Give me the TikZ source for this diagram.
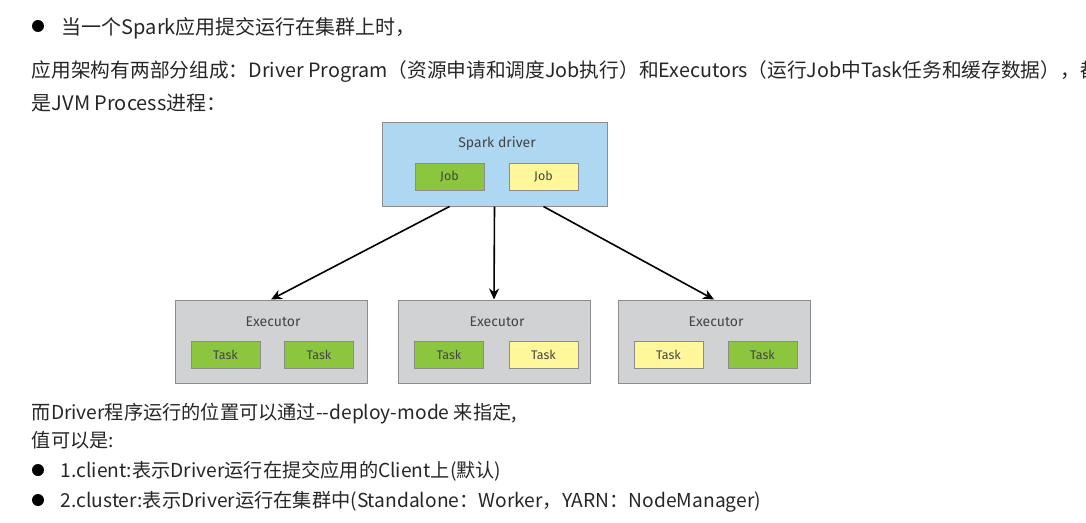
\documentclass[tikz,border=0pt]{standalone}
\usepackage{fontspec}
\setmainfont{Noto Sans CJK SC}
\newfontfamily\boxfont{Fira Sans}
\usetikzlibrary{arrows.meta}
\definecolor{driverblue}{HTML}{AED8F2}
\definecolor{jobgreen}{HTML}{8CC63F}
\definecolor{jobyellow}{HTML}{FFF79A}
\definecolor{execgray}{HTML}{D1D2D4}
\definecolor{boxline}{HTML}{8C8C8C}
\definecolor{boxtext}{HTML}{444444}

\begin{document}
\begin{tikzpicture}[x=1pt,y=-1pt,>={Stealth[length=11pt,width=10pt]},
                    line width=1.6pt]
  \tikzstyle{every node}=[font=\fontsize{20}{24}\selectfont,text=black!85]
  \tikzstyle{line}=[anchor=base west,inner sep=0pt]
  \tikzstyle{small line}=[line,font=\fontsize{19.2}{23}\selectfont]
  \tikzstyle{bullet}=[circle,fill=black,inner sep=0pt,minimum size=12pt]
  \tikzstyle{driverbox}=[draw=boxline,line width=1pt,fill=driverblue,minimum width=225pt,minimum height=84pt]
  \tikzstyle{execbox}=[draw=boxline,line width=1pt,fill=execgray,minimum width=192pt,minimum height=83pt]
  \tikzstyle{green}=[draw=boxline,line width=1pt,fill=jobgreen,minimum width=69pt,minimum height=27pt,font=\boxfont\fontsize{12.5}{14}\selectfont,text=boxtext]
  \tikzstyle{yellow}=[green,fill=jobyellow]
  \tikzstyle{title}=[font=\boxfont\fontsize{14}{16}\selectfont,text=boxtext]

  \useasboundingbox (0,0) rectangle (1086,522);

  % text above
  \node[bullet] (dot1) at (38,26) {};
  \node[line] (intro) at (61,34) {当一个Spark应用提交运行在集群上时，};
  \node[line,font=\fontsize{19.7}{24}\selectfont] (arch1) at (31,77) {应用架构有两部分组成：Driver Program（资源申请和调度Job执行）和Executors（运行Job中Task任务和缓存数据），都};
  \node[line] (arch2) at (31,110) {是JVM Process进程：};

  % driver
  \node[driverbox] (driver) at (494.5,164) {};
  \node[title] (drivername) at (497,144) {Spark driver};
  \node[green] (job1) at (449.5,176.5) {Job};
  \node[yellow] (job2) at (543.5,176.5) {Job};

  % executors
  \node[execbox] (exec1) at (271,341.5) {};
  \node[title] (execname1) at (273,322) {Executor};
  \node[green] (task11) at (225.5,355) {Task};
  \node[green] (task12) at (319,355) {Task};

  \node[execbox] (exec2) at (494,341.5) {};
  \node[title] (execname2) at (497,322) {Executor};
  \node[green] (task21) at (449,355) {Task};
  \node[yellow] (task22) at (543.5,355) {Task};

  \node[execbox] (exec3) at (714,341.5) {};
  \node[title] (execname3) at (716,322) {Executor};
  \node[yellow] (task31) at (668.5,355) {Task};
  \node[green] (task32) at (762.5,355) {Task};

  \path[->] (job1 |- driver.south) edge (exec1.north)
            (driver.south) edge (exec2.north)
            (job2 |- driver.south) edge (exec3.north);

  % text below
  \node[small line] (mode) at (31,419) {而Driver程序运行的位置可以通过-\kern0pt-deploy-mode 来指定,};
  \node[small line] (values) at (31,447) {值可以是:};
  \node[bullet] (dot2) at (38,470) {};
  \node[small line] (client) at (60,477) {1.client:表示Driver运行在提交应用的Client上(默认)};
  \node[bullet] (dot3) at (38,500) {};
  \node[small line] (cluster) at (60,507) {2.cluster:表示Driver运行在集群中(Standalone：Worker，YARN：NodeManager)};
\end{tikzpicture}
\end{document}
